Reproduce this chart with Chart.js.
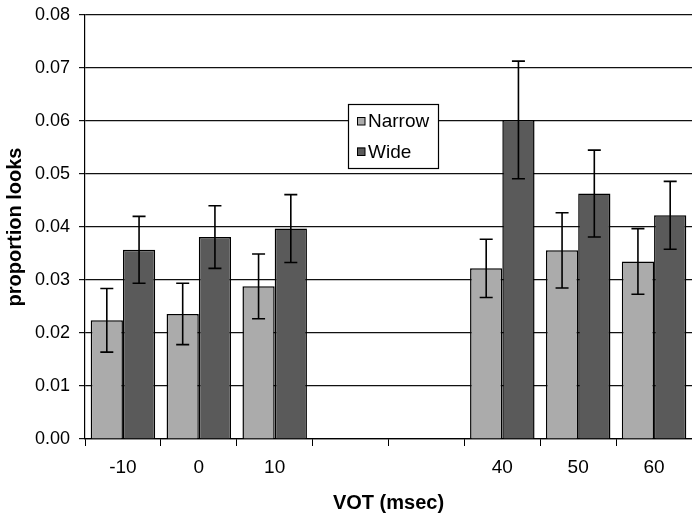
<!DOCTYPE html>
<html>
<head>
<meta charset="utf-8">
<script src="https://cdn.jsdelivr.net/npm/chart.js@4/dist/chart.umd.min.js"></script>
<style>
  html, body { margin: 0; padding: 0; background: #fff; overflow: hidden; }
  canvas { display: block; }
</style>
</head>
<body>
<canvas id="c" width="692" height="517"></canvas>
<script>
// ---- data ----
const categories = ['-10', '0', '10', '20', '30', '40', '50', '60'];
const tickLabels = ['-10', '0', '10', '', '', '40', '50', '60'];
const narrow    = [0.0224, 0.0236, 0.0288, null, null, 0.0322, 0.0356, 0.0335];
const wide      = [0.0357, 0.0381, 0.0397, null, null, 0.0602, 0.0463, 0.0422];
const narrowErr = [0.0060, 0.0058, 0.0061, null, null, 0.0055, 0.0071, 0.0062];
const wideErr   = [0.0063, 0.0059, 0.0064, null, null, 0.0111, 0.0082, 0.0064];
const seriesNames = ['Narrow', 'Wide'];
const yTicks = [0, 0.01, 0.02, 0.03, 0.04, 0.05, 0.06, 0.07, 0.08];

const LIGHT = '#ababab';
const DARK = '#5a5a5a';
const FONT = '"Liberation Sans", Arial, sans-serif';

const errorBars = {
  id: 'errorBars',
  afterDatasetsDraw(chart) {
    const ctx = chart.ctx;
    const y = chart.scales.y;
    const errs = [narrowErr, wideErr];
    ctx.save();
    ctx.strokeStyle = '#000';
    ctx.lineWidth = 1.6;
    chart.data.datasets.forEach((ds, i) => {
      const meta = chart.getDatasetMeta(i);
      meta.data.forEach((bar, j) => {
        const v = ds.data[j];
        const e = errs[i][j];
        if (v == null || e == null) return;
        const x = bar.x;
        const yt = y.getPixelForValue(v + e);
        const yb = y.getPixelForValue(v - e);
        const cap = 6.5;
        ctx.beginPath();
        ctx.moveTo(x, yt); ctx.lineTo(x, yb);
        ctx.moveTo(x - cap, yt); ctx.lineTo(x + cap, yt);
        ctx.moveTo(x - cap, yb); ctx.lineTo(x + cap, yb);
        ctx.stroke();
      });
    });
    ctx.restore();
  }
};

const boxLegend = {
  id: 'boxLegend',
  afterDraw(chart) {
    const ctx = chart.ctx;
    const a = chart.chartArea;
    const left = a.left + 263, top = a.top + 89, w = 90, h = 64;
    ctx.save();
    ctx.fillStyle = '#fff';
    ctx.fillRect(left, top, w, h);
    ctx.strokeStyle = '#000';
    ctx.lineWidth = 1.2;
    ctx.strokeRect(left + 0.5, top + 0.5, w, h);
    ctx.font = '19px ' + FONT;
    ctx.textBaseline = 'middle';
    ctx.textAlign = 'left';
    chart.data.datasets.forEach((ds, i) => {
      const cy = top + 17 + i * 30.5;
      ctx.fillStyle = ds.backgroundColor;
      ctx.fillRect(left + 9, cy - 4, 8, 8);
      ctx.lineWidth = 1;
      ctx.strokeStyle = '#000';
      ctx.strokeRect(left + 9 + 0.5, cy - 4 + 0.5, 7.5, 7.5);
      ctx.fillStyle = '#000';
      ctx.fillText(ds.label, left + 20, cy + 1);
    });
    ctx.restore();
  }
};

new Chart(document.getElementById('c'), {
  type: 'bar',
  data: {
    labels: categories,
    datasets: [
      { label: seriesNames[0], data: narrow, backgroundColor: LIGHT, borderColor: '#000', borderWidth: 1.5 },
      { label: seriesNames[1], data: wide, backgroundColor: DARK, borderColor: '#000', borderWidth: 1.5 }
    ]
  },
  options: {
    responsive: false,
    animation: false,
    devicePixelRatio: 1,
    layout: { padding: { top: 15, right: 0, left: 0, bottom: 0 } },
    datasets: { bar: { categoryPercentage: 0.85, barPercentage: 1.0 } },
    plugins: { legend: { display: false }, tooltip: { enabled: false } },
    scales: {
      x: {
        offset: true,
        grid: { display: true, drawOnChartArea: false, drawTicks: true, tickLength: 7, color: '#000', offset: true },
        border: { display: true, color: '#000', width: 1.2 },
        ticks: {
          color: '#000', font: { family: FONT, size: 19 }, padding: 10,
          maxRotation: 0, autoSkip: false,
          callback: (v, i) => tickLabels[i]
        },
        title: { display: true, text: 'VOT (msec)', color: '#000', font: { family: FONT, size: 20, weight: 'bold' }, padding: { top: 0, bottom: 2 } },
        afterFit: s => { s.height = 78; s.paddingLeft = 0; s.paddingRight = 0; }
      },
      y: {
        min: 0, max: 0.08,
        afterBuildTicks: s => { s.ticks = yTicks.map(v => ({ value: v })); },
        grid: { color: '#111', lineWidth: 1.2, drawTicks: true, tickLength: 6 },
        border: { display: true, color: '#000', width: 1.2 },
        ticks: {
          color: '#000', font: { family: FONT, size: 18 }, padding: 9,
          callback: v => Number(v).toFixed(2)
        },
        title: { display: true, text: 'proportion looks', color: '#000', font: { family: FONT, size: 20, weight: 'bold' }, padding: { top: 3, bottom: 0 } },
        afterFit: s => { s.width = 85; s.paddingTop = 0; s.paddingBottom = 0; }
      }
    }
  },
  plugins: [errorBars, boxLegend]
});
</script>
</body>
</html>
